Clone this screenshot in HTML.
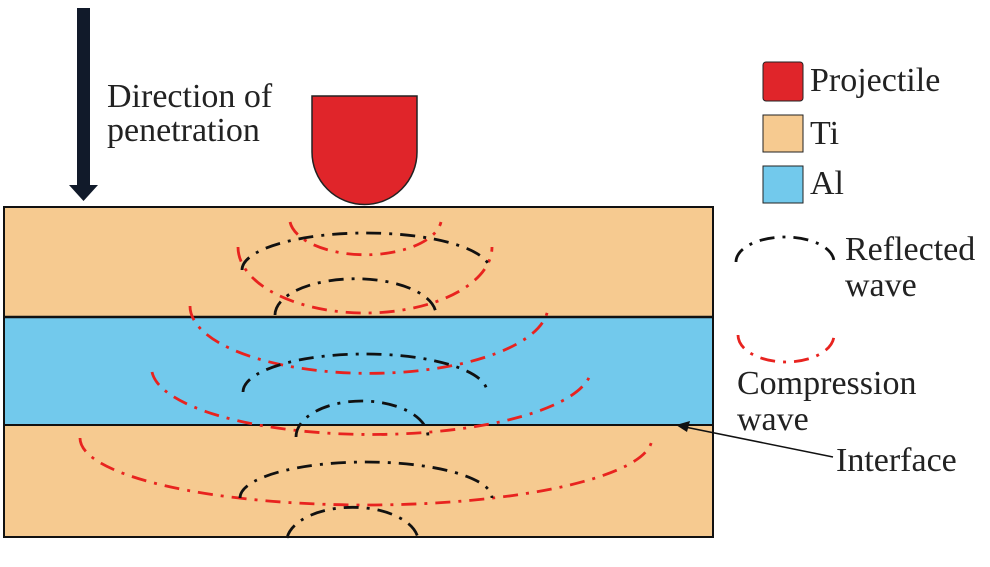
<!DOCTYPE html>
<html><head><style>
html,body{margin:0;padding:0;background:#fff;}
svg{display:block;}
text{font-family:"Liberation Serif",serif;font-size:34px;fill:#222;}
</style></head><body>
<svg width="990" height="567" viewBox="0 0 990 567">
<rect x="4" y="207" width="709" height="110" fill="#f6ca90"/>
<rect x="4" y="317" width="709" height="108" fill="#72c9ec"/>
<rect x="4" y="425" width="709" height="112" fill="#f6ca90"/>
<rect x="4" y="207" width="709" height="330" fill="none" stroke="#111" stroke-width="2"/>
<line x1="4" y1="317" x2="713" y2="317" stroke="#111" stroke-width="2.5"/>
<line x1="4" y1="425" x2="713" y2="425" stroke="#111" stroke-width="2"/>
<g fill="none" stroke-width="2.8" stroke-dasharray="15 8 3 8">
<g stroke="#e8231f">
<path d="M290,222 A76,37 0 0 0 441,222"/>
<path d="M238,247 A127,66 0 0 0 492,247"/>
<path d="M190,306 A178,67 0 0 0 548,306"/>
<path d="M152,372 A220,67 0 0 0 591,372"/>
<path d="M80,438 A286,67 0 0 0 652,438"/>
<path d="M738,335 A48,27 0 0 0 834,335"/>
</g>
<g stroke="#111">
<path d="M242,270 A124,37 0 0 1 490,270"/>
<path d="M275,315 A80,36 0 0 1 436,315"/>
<path d="M243,392 A122,38 0 0 1 487,392"/>
<path d="M296,437 A66,36 0 0 1 428,437"/>
<path d="M240,498 A126,36 0 0 1 492,498"/>
<path d="M287,538 A66,35 0 0 1 418,538"/>
<path d="M736,262 A49,25 0 0 1 834,262"/>
</g>
</g>
<path d="M312,96 H417 V152 A52.5,52.5 0 0 1 312,152 Z" fill="#e0252a" stroke="#222" stroke-width="1.5"/>
<rect x="77" y="8" width="13" height="180" fill="#111a2a"/>
<polygon points="69,185 98,185 83.5,201" fill="#111a2a"/>
<rect x="763" y="62" width="40" height="39" rx="3" fill="#e0252a" stroke="#222" stroke-width="1"/>
<rect x="763" y="115" width="40" height="37" fill="#f6ca90" stroke="#222" stroke-width="1"/>
<rect x="763" y="166" width="40" height="37" fill="#72c9ec" stroke="#222" stroke-width="1"/>
<text x="810" y="91">Projectile</text>
<text x="810" y="144">Ti</text>
<text x="810" y="194">Al</text>
<text x="107" y="107">Direction of</text>
<text x="107" y="141">penetration</text>
<text x="845" y="260">Reflected</text>
<text x="845" y="296">wave</text>
<text x="737" y="394">Compression</text>
<text x="737" y="430">wave</text>
<text x="836" y="471">Interface</text>
<line x1="833" y1="457" x2="685" y2="427" stroke="#111" stroke-width="1.5"/>
<polygon points="676,425 690,421 687,432" fill="#111"/>
</svg>
</body></html>
